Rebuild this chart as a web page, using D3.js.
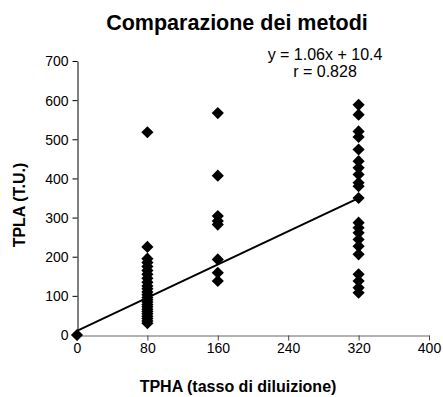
<!DOCTYPE html>
<html>
<head>
<meta charset="utf-8">
<script src="https://cdn.jsdelivr.net/npm/d3@7"></script>
<style>
  body { margin: 0; background: #fff; }
  svg { display: block; font-family: "Liberation Sans", Arial, sans-serif; }
</style>
</head>
<body>
<div id="chart"></div>
<script>
// TPHA dilution (x) vs TPLA (y)
var tphaLevels = [0, 80, 160, 320];
var tplaAt0 = [0];
var tplaAt80 = [518, 225, 195, 185, 175, 165, 155, 145, 135, 125, 118, 110, 103, 96, 90, 84, 78, 72, 66, 60, 54, 48, 42, 36, 30];
var tplaAt160 = [567, 407, 304, 291, 282, 193, 159, 138];
var tplaAt320 = [588, 563, 520, 506, 474, 444, 427, 410, 389, 380, 350, 287, 274, 261, 244, 227, 206, 155, 138, 121, 108];

var xTicks = [0, 80, 160, 240, 320, 400];
var yTicks = [0, 100, 200, 300, 400, 500, 600, 700];

// trendline endpoints (y = 1.06x + 10.4)
var trendX = [0, 320];
var trendY = [10.4, 349.6];

var titleText = "Comparazione dei metodi";
var eqLines = ["y = 1.06x + 10.4", "r = 0.828"];
var xTitle = "TPHA (tasso di diluizione)";
var yTitle = "TPLA (T.U.)";

var width = 443, height = 397;

var points = [];
[tplaAt0, tplaAt80, tplaAt160, tplaAt320].forEach(function(arr, i) {
  arr.forEach(function(v) { points.push({ x: tphaLevels[i], y: v }); });
});

var svg = d3.select("#chart").append("svg")
  .attr("width", width)
  .attr("height", height);

var x = d3.scaleLinear().domain([0, 400]).range([77, 429]);
var y = d3.scaleLinear().domain([0, 700]).range([335, 61]);

// axes
var xAxis = svg.append("g")
  .attr("transform", "translate(0,335.5)")
  .call(d3.axisBottom(x).tickValues(xTicks).tickSize(5).tickPadding(3).tickSizeOuter(0));
var yAxis = svg.append("g")
  .attr("transform", "translate(77.5,0)")
  .call(d3.axisLeft(y).tickValues(yTicks).tickSize(5).tickPadding(4).tickSizeOuter(0));

xAxis.select(".domain").attr("stroke", "#666");
xAxis.selectAll(".tick line").attr("stroke", "#444");
yAxis.select(".domain").attr("stroke", "#000");
[xAxis, yAxis].forEach(function(g) {
  g.selectAll("text")
    .attr("fill", "#000")
    .style("font-family", "Liberation Sans, Arial, sans-serif")
    .style("font-size", "14px");
});
yAxis.selectAll("text").attr("dy", "0.35em");

// trendline
svg.append("line")
  .attr("x1", x(trendX[0])).attr("y1", y(trendY[0]))
  .attr("x2", x(trendX[1])).attr("y2", y(trendY[1]))
  .attr("stroke", "#000")
  .attr("stroke-width", 2);

// diamonds
var diamond = d3.symbol().type(d3.symbolSquare).size(74);
svg.append("g").selectAll("path")
  .data(points)
  .join("path")
  .attr("d", diamond)
  .attr("transform", function(d) { return "translate(" + x(d.x) + "," + y(d.y) + ") rotate(45)"; })
  .attr("fill", "#000");

// title
svg.append("text")
  .attr("x", 237).attr("y", 30)
  .attr("text-anchor", "middle")
  .style("font-size", "21.5px")
  .style("font-weight", "bold")
  .text(titleText);

// equation
svg.append("g").selectAll("text")
  .data(eqLines)
  .join("text")
  .attr("x", 325)
  .attr("y", function(d, i) { return 60 + i * 17; })
  .attr("text-anchor", "middle")
  .style("font-size", "16px")
  .text(function(d) { return d; });

// axis titles
svg.append("text")
  .attr("x", 238).attr("y", 392)
  .attr("text-anchor", "middle")
  .style("font-size", "16px")
  .style("font-weight", "bold")
  .text(xTitle);

svg.append("text")
  .attr("transform", "translate(25,205) rotate(-90)")
  .attr("text-anchor", "middle")
  .style("font-size", "16px")
  .style("font-weight", "bold")
  .text(yTitle);
</script>
</body>
</html>
